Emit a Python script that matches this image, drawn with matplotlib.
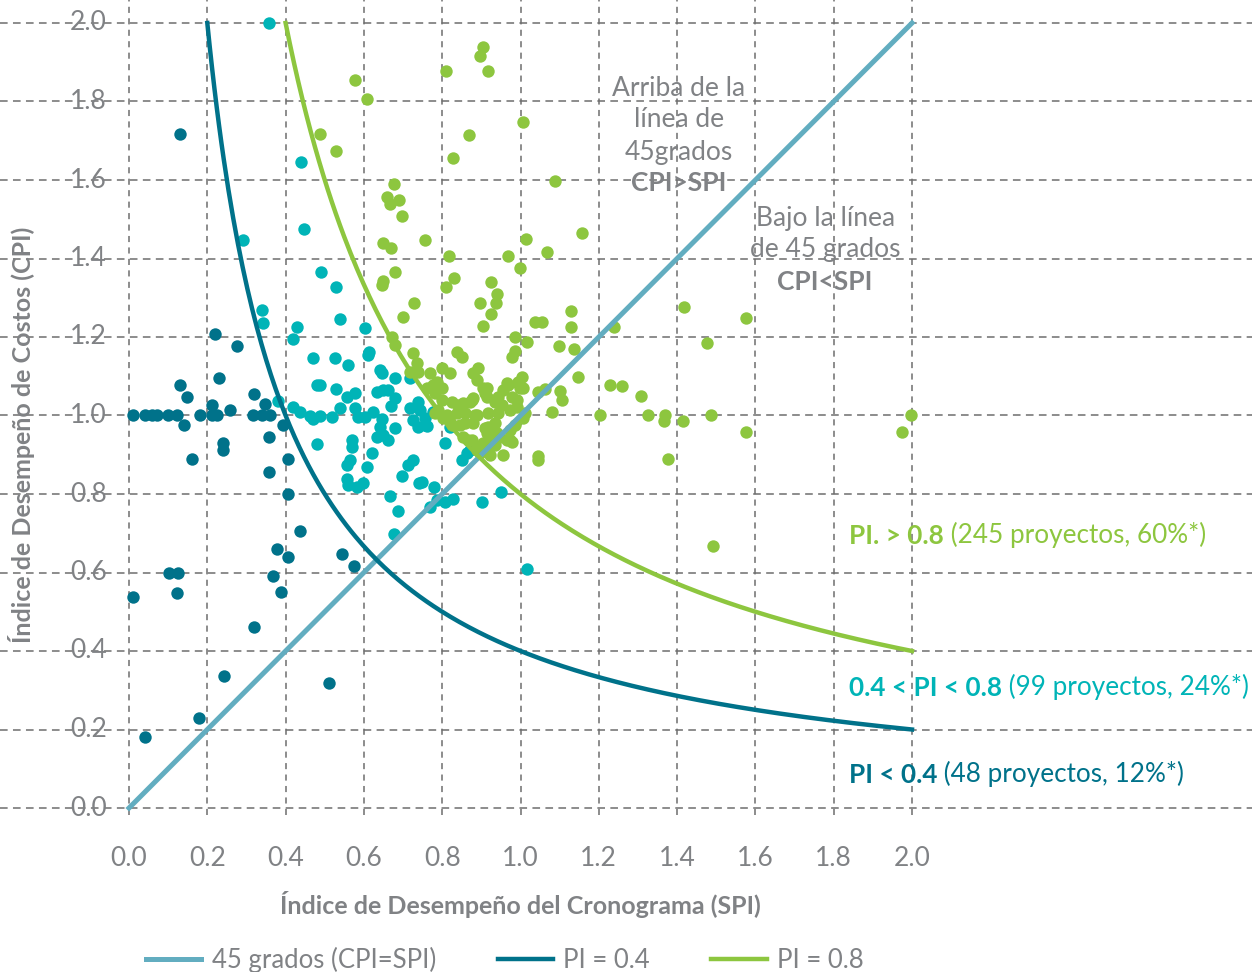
import numpy as np
import matplotlib
matplotlib.use('Agg')
import matplotlib.pyplot as plt

plt.rcParams['font.family'] = ['Lato', 'DejaVu Sans']

# ---------------------------------------------------------------- datos
# Proyectos con PI < 0.4
dark_spi = [0.01, 0.041, 0.059, 0.072, 0.10, 0.123, 0.181, 0.212, 0.225, 0.317, 0.34, 0.36,
            0.13, 0.22, 0.277, 0.23, 0.13, 0.148, 0.32, 0.347, 0.212, 0.258, 0.141, 0.393,
            0.358, 0.24, 0.24, 0.16, 0.405, 0.358, 0.407, 0.437, 0.377, 0.407, 0.545, 0.575,
            0.369, 0.389, 0.103, 0.125, 0.122, 0.011, 0.32, 0.242, 0.51, 0.18, 0.041]
dark_cpi = [1.0, 1.0, 1.0, 1.0, 1.0, 1.0, 1.0, 1.0, 1.0, 1.0, 1.0, 1.0,
            1.717, 1.207, 1.177, 1.095, 1.078, 1.047, 1.055, 1.029, 1.027, 1.014, 0.976, 0.976,
            0.946, 0.929, 0.912, 0.889, 0.889, 0.857, 0.80, 0.706, 0.66, 0.64, 0.647, 0.616,
            0.591, 0.55, 0.599, 0.599, 0.548, 0.538, 0.461, 0.336, 0.318, 0.229, 0.18]

# Proyectos con 0.4 < PI < 0.8
cyan_spi = [0.358, 0.439, 0.447, 0.292, 0.49, 0.529, 0.34, 0.342, 0.538, 0.428, 0.418, 0.603,
            0.613, 0.611, 0.47, 0.527, 0.559, 0.64, 0.645, 0.679, 0.718, 0.48, 0.488, 0.529,
            0.557, 0.577, 0.633, 0.649, 0.662, 0.679, 0.669, 0.38, 0.42, 0.437, 0.539, 0.577,
            0.585, 0.603, 0.623, 0.462, 0.47, 0.488, 0.518, 0.645, 0.64, 0.679, 0.649, 0.662,
            0.633, 0.718, 0.738, 0.743, 0.756, 0.761, 0.738, 0.725, 0.776, 0.57, 0.57, 0.48,
            0.62, 0.565, 0.557, 0.607, 0.726, 0.713, 0.557, 0.56, 0.582, 0.598, 0.697, 0.741,
            0.779, 0.667, 0.687, 0.677, 0.807, 0.769, 0.787, 0.807, 0.82, 0.85, 0.863, 0.871,
            0.95, 0.902, 0.828, 1.017, 0.756, 0.748]
cyan_cpi = [2.0, 1.647, 1.475, 1.447, 1.366, 1.327, 1.269, 1.236, 1.245, 1.226, 1.194, 1.224,
            1.162, 1.154, 1.146, 1.146, 1.129, 1.116, 1.108, 1.096, 1.096, 1.078, 1.077, 1.068,
            1.048, 1.058, 1.06, 1.065, 1.065, 1.045, 1.024, 1.037, 1.022, 1.01, 1.02, 1.018,
            0.996, 0.996, 1.01, 0.998, 0.99, 0.998, 0.995, 0.99, 0.97, 0.968, 0.95, 0.938,
            0.945, 1.019, 1.034, 1.014, 0.994, 0.973, 0.971, 0.988, 1.009, 0.938, 0.92, 0.927,
            0.905, 0.887, 0.874, 0.869, 0.887, 0.874, 0.838, 0.823, 0.818, 0.828, 0.846, 0.828,
            0.818, 0.795, 0.757, 0.698, 0.93, 0.767, 0.785, 0.78, 0.97, 0.887, 0.905, 0.912,
            0.805, 0.78, 0.787, 0.609, 0.976, 0.831]

# Proyectos con PI > 0.8
green_spi = [0.578, 0.607, 0.488, 0.53, 0.678, 0.66, 0.667, 0.69, 0.698, 0.648, 0.668, 0.756,
             0.679, 0.646, 0.648, 0.727, 0.699, 0.671, 0.679, 0.726,
             0.904, 0.897, 0.81, 0.917, 1.006, 0.868, 0.828, 1.088, 1.157, 1.014, 0.817, 0.968,
             1.068, 0.999, 0.83, 0.81, 0.925, 0.94, 0.937, 0.897, 0.925, 0.904, 1.129, 1.129,
             1.037, 1.055, 0.986, 1.017, 1.098, 1.137, 0.986, 0.978, 0.838, 0.85, 1.239, 1.418,
             1.576, 1.476, 1.147, 1.229, 1.259, 1.307, 1.101, 1.106, 1.045, 1.063, 1.08, 1.203,
             1.326, 1.369, 1.367, 1.415, 1.487, 1.576, 1.997, 1.975, 1.377, 1.045, 1.045, 1.492,
             0.735, 0.738, 0.769, 0.8, 0.82, 0.718, 0.787, 0.776, 0.879, 0.889, 0.892, 0.761,
             0.782, 0.8, 0.914, 0.968, 0.994, 1.006, 0.876,
             0.879, 0.871, 0.853, 0.84, 0.825, 0.8, 0.789, 0.782, 0.812, 0.838, 0.858, 0.884,
             0.802, 0.82, 0.845, 0.858, 0.879, 0.825, 0.853, 0.876, 0.889, 0.897,
             0.904, 0.91, 0.914, 0.965, 0.994, 0.999, 0.956, 0.943, 0.935, 0.953, 0.978, 0.991,
             0.991, 0.973, 0.943, 0.917, 0.889, 1.011, 1.006, 0.917, 0.91, 0.935, 0.973, 0.986,
             0.948, 0.965, 0.978, 0.922, 0.935, 0.917, 0.904, 0.889, 0.902, 1.004,
             0.866, 0.91, 0.922, 0.955, 0.973, 0.94, 0.914, 0.927]
green_cpi = [1.855, 1.807, 1.716, 1.675, 1.589, 1.557, 1.54, 1.549, 1.508, 1.44, 1.426, 1.447,
             1.366, 1.333, 1.343, 1.286, 1.25, 1.2, 1.18, 1.159,
             1.939, 1.916, 1.877, 1.877, 1.748, 1.715, 1.656, 1.597, 1.465, 1.45, 1.406, 1.406,
             1.416, 1.376, 1.35, 1.328, 1.34, 1.31, 1.287, 1.287, 1.259, 1.228, 1.266, 1.225,
             1.238, 1.238, 1.2, 1.187, 1.177, 1.169, 1.164, 1.149, 1.162, 1.149, 1.225, 1.277,
             1.249, 1.185, 1.099, 1.078, 1.076, 1.05, 1.062, 1.04, 1.06, 1.068, 1.008, 1.0,
             1.0, 1.0, 0.986, 0.986, 1.0, 0.958, 1.0, 0.958, 0.889, 0.897, 0.887, 0.668,
             1.134, 1.11, 1.108, 1.12, 1.108, 1.11, 1.085, 1.078, 1.108, 1.09, 1.121, 1.07,
             1.057, 1.07, 1.07, 1.078, 1.085, 1.07, 1.04,
             1.045, 1.034, 1.032, 1.026, 1.034, 1.039, 1.014, 1.006, 1.001, 1.006, 1.006, 1.001,
             0.994, 0.983, 0.976, 0.981, 0.981, 0.976, 0.946, 0.938, 0.92, 0.905,
             1.07, 1.057, 1.047, 1.083, 1.083, 1.07, 1.065, 1.047, 1.034, 1.027, 1.047, 1.039,
             1.022, 1.014, 1.006, 1.006, 1.001, 1.006, 0.994, 0.971, 0.968, 0.981, 0.963, 0.976,
             0.946, 0.938, 0.933, 0.938, 0.925, 0.92, 0.93, 0.912, 0.92, 1.098,
             0.938, 0.92, 0.9, 0.9, 0.938, 0.955, 0.955, 0.97]

ticks = [0.0, 0.2, 0.4, 0.6, 0.8, 1.0, 1.2, 1.4, 1.6, 1.8, 2.0]
tick_labels = ['0.0', '0.2', '0.4', '0.6', '0.8', '1.0', '1.2', '1.4', '1.6', '1.8', '2.0']

# ---------------------------------------------------------------- colores
c_dark = '#00728a'
c_cyan = '#00b4b7'
c_green = '#8dc63f'
c_45 = '#62adc0'
c_gray = '#808285'
c_grid = '#6e6e6e'

fig = plt.figure(figsize=(12.52, 9.72), dpi=100)
ax = fig.add_axes([0, 1 - 815 / 972, 1, 815 / 972])
ax.set_xlim(-129 / 391.5, 2 + 340 / 391.5)
ax.set_ylim(-7 / 392.5, 2 + 23 / 392.5)
for s in ax.spines.values():
    s.set_visible(False)

# rejilla punteada
for t in ticks:
    ax.axhline(t, color=c_grid, lw=1.1, ls=(0, (5, 3.5)), zorder=1)
    ax.axvline(t, color=c_grid, lw=1.1, ls=(0, (4, 3.5)), zorder=1)

ax.scatter(dark_spi, dark_cpi, s=80, color=c_dark, lw=0, zorder=3)
ax.scatter(cyan_spi, cyan_cpi, s=80, color=c_cyan, lw=0, zorder=3)
ax.scatter(green_spi, green_cpi, s=80, color=c_green, lw=0, zorder=4)

x45 = np.array([0.0, 2.0])
x04 = np.linspace(0.2, 2.0, 300)
x08 = np.linspace(0.4, 2.0, 300)
ax.plot(x45, x45, color=c_45, lw=3.6, zorder=5, label='45 grados (CPI=SPI)')
ax.plot(x04, 0.4 / x04, color=c_dark, lw=3.2, zorder=5, label='PI = 0.4')
ax.plot(x08, 0.8 / x08, color=c_green, lw=3.2, zorder=5, label='PI = 0.8')

ax.set_xticks(ticks)
ax.set_xticklabels(tick_labels, color=c_gray, fontsize=19)
ax.tick_params(axis='x', length=0, pad=22)
ax.set_yticks([])
for t, lab in zip(ticks, tick_labels):
    ax.text(-0.056, t, lab, ha='right', va='center', color=c_gray, fontsize=19, zorder=2)

fig.text(520 / 1252, 1 - 905 / 972, 'Índice de Desempeño del Cronograma (SPI)',
         ha='center', va='center', fontsize=18, fontweight='bold', color=c_gray)
fig.text(22 / 1252, 1 - 435 / 972, 'Índice de Desempeño de Costos (CPI)',
         ha='center', va='center', rotation=90, fontsize=18, fontweight='bold', color=c_gray)

# textos dentro del grafico
for txt, y in [('Arriba de la', 1.834), ('línea de', 1.753), ('45grados', 1.671)]:
    ax.text(1.405, y, txt, ha='center', va='center', fontsize=19, color=c_gray, zorder=6)
ax.text(1.405, 1.592, 'CPI>SPI', ha='center', va='center', fontsize=19,
        fontweight='bold', color=c_gray, zorder=6)
for txt, y in [('Bajo la línea', 1.503), ('de 45 grados', 1.422)]:
    ax.text(1.778, y, txt, ha='center', va='center', fontsize=19, color=c_gray, zorder=6)
ax.text(1.778, 1.340, 'CPI<SPI', ha='center', va='center', fontsize=19,
        fontweight='bold', color=c_gray, zorder=6)

# etiquetas de grupos
grupos = [('PI. > 0.8', ' (245 proyectos, 60%*)', 0.693, c_green),
          ('0.4 < PI < 0.8', ' (99 proyectos, 24%*)', 0.306, c_cyan),
          ('PI < 0.4', ' (48 proyectos, 12%*)', 0.084, c_dark)]
for b, r, y, c in grupos:
    tb = ax.text(1.839, y, b, ha='left', va='center', fontsize=18.8, fontweight='bold',
                 color=c, zorder=6)
    ax.annotate(r, xy=(1, 0), xycoords=tb, ha='left', va='bottom', fontsize=18.8,
                color=c, zorder=6)

leg = fig.legend(loc='center', bbox_to_anchor=(505 / 1252, 12 / 972), ncol=3, frameon=False,
                 fontsize=18.5, handlelength=2.15, handletextpad=0.4, columnspacing=2.4)
for t in leg.get_texts():
    t.set_color(c_gray)

plt.savefig('out.png', dpi=100)
